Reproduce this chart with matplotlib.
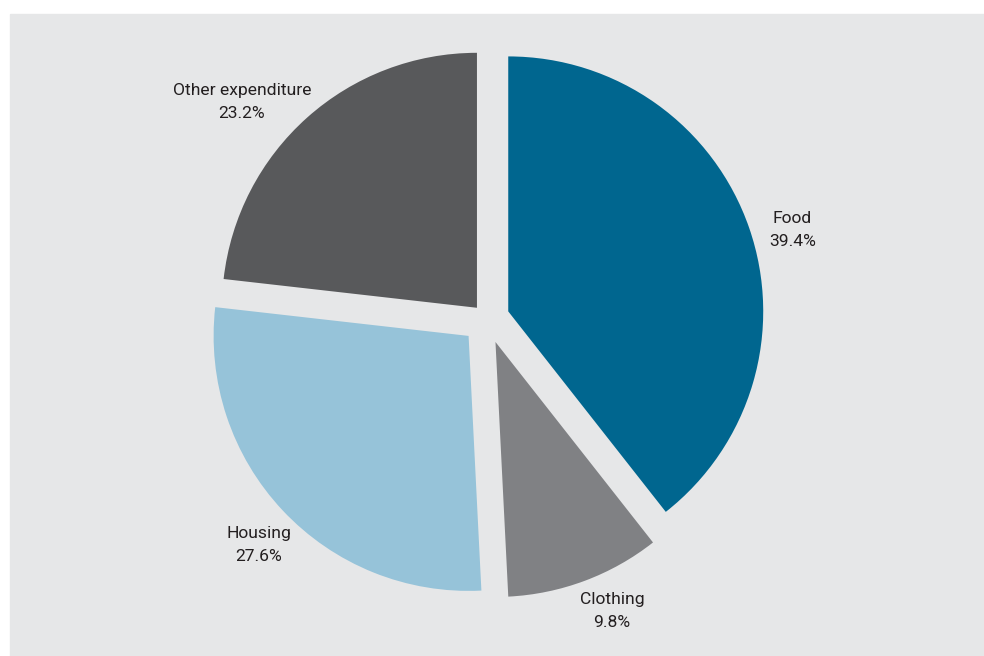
import matplotlib
matplotlib.use("Agg")
import matplotlib.pyplot as plt
from matplotlib.patches import Rectangle

# data (clockwise from 12 o'clock)
categories = ["Food", "Clothing", "Housing", "Other expenditure"]
shares = [39.4, 9.8, 27.6, 23.2]
colors = ["#00668f", "#808184", "#96c3d9", "#58595b"]
explode = [0.089, 0.097, 0.098, 0.058]

# label anchor points (data units, pie radius = 1)
label_pos = [(1.198, 0.348), (0.491, -1.146), (-0.893, -0.887), (-0.960, 0.851)]

fig = plt.figure(figsize=(9.84, 6.56), dpi=100)
fig.patch.set_facecolor("white")
fig.add_artist(Rectangle((10 / 984, 0), 974 / 984, 642 / 656,
                         transform=fig.transFigure, color="#e6e7e8", zorder=-1))

ax = fig.add_axes([10 / 984, 0, 974 / 984, 642 / 656])
ax.pie(shares, colors=colors, explode=explode, startangle=90,
       counterclock=False, radius=1, wedgeprops=dict(linewidth=0))
ax.set_xlim(-1.870, 1.950)
ax.set_ylim(-1.322, 1.195)
ax.set_aspect("equal")
ax.axis("off")

for name, val, (x, y) in zip(categories, shares, label_pos):
    ax.text(x, y, f"{name}\n{val:.1f}%", ha="center", va="center",
            multialignment="center", fontsize=12.6, family="Roboto",
            color="#231f20", linespacing=1.65)

fig.savefig("out.png", dpi=100, facecolor=fig.get_facecolor())
